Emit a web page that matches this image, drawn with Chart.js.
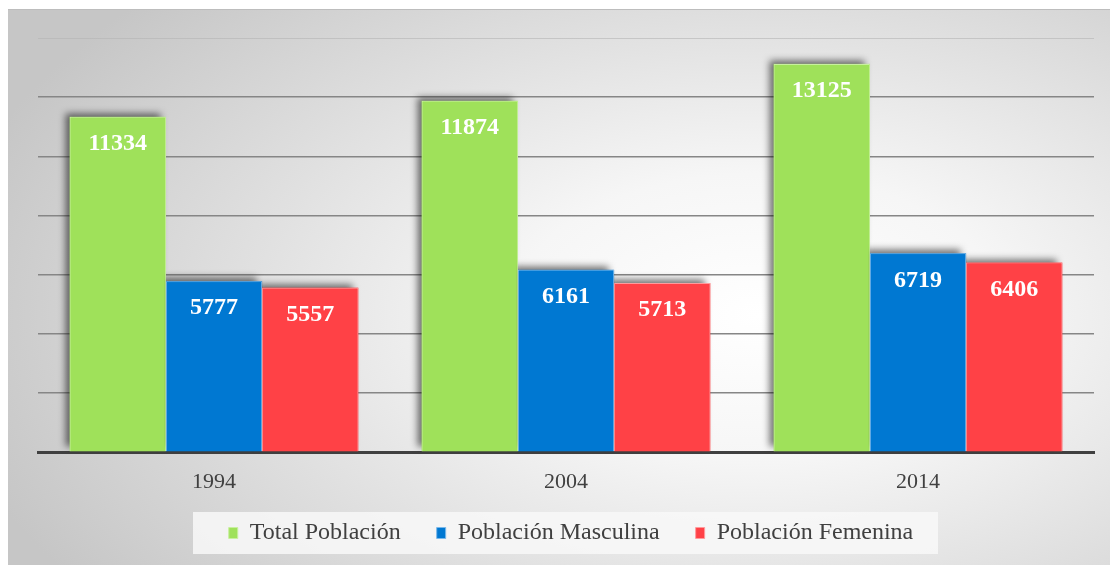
<!DOCTYPE html>
<html><head><meta charset="utf-8">
<script src="https://cdn.jsdelivr.net/npm/chart.js@4.4.1/dist/chart.umd.min.js"></script>
<style>
html,body{margin:0;padding:0;background:#fff;}
#wrap{position:absolute;left:8px;top:9px;width:1102px;height:556px;
background:radial-gradient(ellipse 75% 85% at 68% 55%, #ffffff 0%, #f6f6f6 30%, #dedede 65%, #c6c6c6 100%);
border-top:1px solid #bdbdbd;box-sizing:border-box;}
canvas{display:block;}
</style></head><body>
<div id="wrap"><canvas id="c" width="1102" height="555"></canvas></div>
<script>
const categories = ['1994','2004','2014'];
const seriesNames = ['Total Población','Población Masculina','Población Femenina'];
const totalPoblacion = [11334, 11874, 13125];
const poblacionMasculina = [5777, 6161, 6719];
const poblacionFemenina = [5557, 5713, 6406];
const yTicks = [0,2000,4000,6000,8000,10000,12000,14000];

const fills = ['#9fe15a','#0078d2','#ff4146'];
const borders = ['#c8f09e','#7ab8ea','#ff9a9c'];
const serif = '"Liberation Serif","Times New Roman",serif';
const LEG_PAD = 36, LEG_FONT = 24;

const shadowPlugin = {
  id:'shadows',
  beforeDatasetsDraw(chart){
    const ctx = chart.ctx;
    ctx.save();
    chart.data.datasets.forEach((ds,i)=>{
      const meta = chart.getDatasetMeta(i);
      meta.data.forEach(bar=>{
        const {x,y,base,width} = bar.getProps(['x','y','base','width'],true);
        ctx.shadowColor='rgba(0,0,0,0.55)';
        ctx.shadowBlur=7;
        ctx.shadowOffsetX=-5;
        ctx.shadowOffsetY=-4;
        ctx.fillStyle=fills[i];
        ctx.fillRect(x-width/2, y, width, base-y);
      });
    });
    ctx.restore();
  }
};
const labelPlugin = {
  id:'vals',
  afterDatasetsDraw(chart){
    const ctx = chart.ctx;
    ctx.save();
    ctx.font = 'bold 24px '+serif;
    ctx.fillStyle='#ffffff';
    ctx.textAlign='center';
    ctx.textBaseline='middle';
    chart.data.datasets.forEach((ds,i)=>{
      chart.getDatasetMeta(i).data.forEach((bar,j)=>{
        ctx.fillText(String(ds.data[j]), bar.x, bar.y+27);
      });
    });
    ctx.restore();
  }
};
const legendBg = {
  id:'legendBg',
  afterLayout(chart){
    const l = chart.legend; if(!l) return;
    l.left += 5; l.right += 5;
  },
  beforeDraw(chart){
    const l = chart.legend; if(!l) return;
    const ctx = chart.ctx;
    const cy = l.top + LEG_PAD + LEG_FONT/2;
    ctx.save();
    ctx.fillStyle='rgba(248,248,248,0.85)';
    ctx.fillRect(185, cy-21, 745, 42);
    ctx.restore();
  }
};

new Chart(document.getElementById('c'),{
  type:'bar',
  data:{
    labels:categories,
    datasets:[
      {label:seriesNames[0],data:totalPoblacion,backgroundColor:fills[0],borderColor:borders[0],borderWidth:1},
      {label:seriesNames[1],data:poblacionMasculina,backgroundColor:fills[1],borderColor:borders[1],borderWidth:1},
      {label:seriesNames[2],data:poblacionFemenina,backgroundColor:fills[2],borderColor:borders[2],borderWidth:1}
    ]
  },
  plugins:[legendBg,shadowPlugin,labelPlugin],
  options:{
    responsive:false,
    animation:false,
    layout:{padding:{left:30,right:16,top:28,bottom:10}},
    datasets:{bar:{categoryPercentage:0.82,barPercentage:1.0}},
    plugins:{
      tooltip:{enabled:false},
      legend:{
        position:'bottom',
        labels:{
          font:{family:serif,size:LEG_FONT},
          color:'#404040',
          boxWidth:9,boxHeight:11,
          padding:LEG_PAD
        }
      }
    },
    scales:{
      x:{
        grid:{display:false},
        border:{display:true,color:'#404040',width:3},
        ticks:{font:{family:serif,size:22},color:'#404040',padding:9},
        afterFit(scale){ scale.height = 33; scale._computeLabelArea = function(){ return undefined; }; }
      },
      y:{
        min:0,max:14000,
        afterBuildTicks(axis){axis.ticks = yTicks.map(v=>({value:v}));},
        ticks:{display:false},
        border:{display:false},
        grid:{
          color:(c)=> c.tick && c.tick.value===14000 ? 'rgba(180,180,180,0.6)' : (c.tick && c.tick.value===0 ? 'rgba(0,0,0,0)' : '#868686'),
          lineWidth:(c)=> c.tick && c.tick.value===14000 ? 1 : 1.5,
          drawTicks:false
        }
      }
    }
  }
});
</script>
</body></html>
